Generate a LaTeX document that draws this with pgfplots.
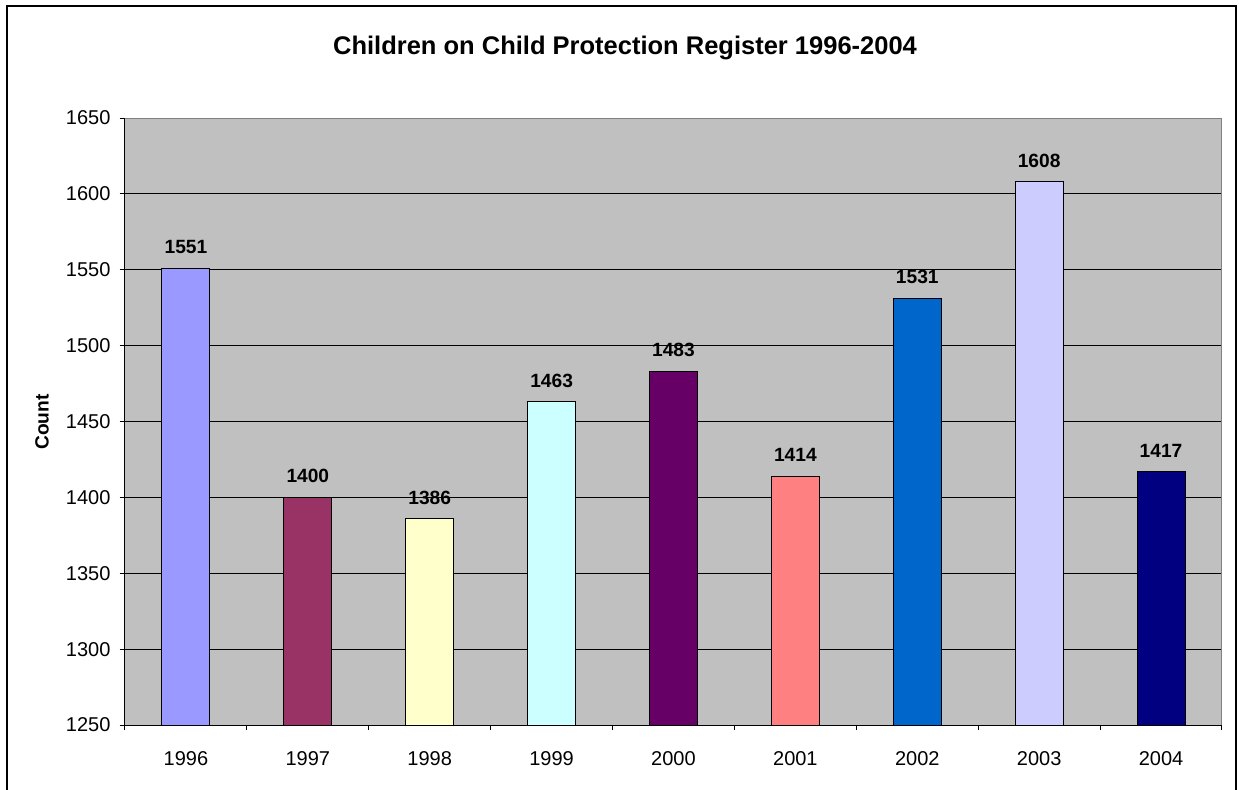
\documentclass[border=0pt]{standalone}
\usepackage{pgfplots}
\pgfplotsset{compat=1.18}
\usepackage{fontspec}
\setmainfont{Liberation Sans}
\definecolor{plotbg}{HTML}{C0C0C0}
\definecolor{borderg}{HTML}{808080}
\definecolor{cA}{HTML}{9999FF}
\definecolor{cB}{HTML}{993366}
\definecolor{cC}{HTML}{FFFFCC}
\definecolor{cD}{HTML}{CCFFFF}
\definecolor{cE}{HTML}{660066}
\definecolor{cF}{HTML}{FF8080}
\definecolor{cG}{HTML}{0066CC}
\definecolor{cH}{HTML}{CCCCFF}
\definecolor{cI}{HTML}{000080}
\begin{document}
\begin{tikzpicture}[x=0.6pt,y=0.6pt]
\useasboundingbox (0,0) rectangle (1239,789);
\clip (0,0) rectangle (1239,789);
\draw[line width=1.4pt] (7,-30) rectangle (1236,783);
\node[font=\bfseries\fontsize{15.3}{18}\selectfont] at (625,741) {Children on Child Protection Register 1996-2004};
\node[font=\bfseries\fontsize{11.5}{13}\selectfont, rotate=90] at (42,367) {Count};
\begin{axis}[
  at={(75pt,38.4pt)}, anchor=south west,
  scale only axis, width=658.2pt, height=364.2pt,
  xmin=-0.5, xmax=8.5, ymin=1250, ymax=1650,
  axis background/.style={fill=plotbg},
  axis line style={draw=none},
  clip=false,
  xtick pos=bottom, ytick pos=left,
  ytick={1250,1300,...,1650},
  ymajorgrids, grid style={black, line width=0.6pt},
  tick align=outside,
  tick style={black, line width=0.6pt},
  major tick length=3.2pt,
  xtick={-0.5,0.5,...,8.5}, xticklabels={},
  extra x ticks={0,1,2,3,4,5,6,7,8},
  extra x tick labels={1996,1997,1998,1999,2000,2001,2002,2003,2004},
  extra x tick style={major tick length=0pt, tick label style={yshift=-12.5pt}},
  /pgf/number format/1000 sep={},
  /pgf/number format/assume math mode=true,
  tick label style={font=\fontsize{12}{14}\selectfont},
  yticklabel style={xshift=-2pt},
  every axis plot/.append style={ybar, bar width=28.8pt, bar shift=0pt, draw=black, line width=0.6pt},
  nodes near coords,
  nodes near coords style={font=\bfseries\fontsize{11.5}{13}\selectfont, yshift=5pt},
]
\addplot[fill=cA] coordinates {(0,1551)};
\addplot[fill=cB] coordinates {(1,1400)};
\addplot[fill=cC] coordinates {(2,1386)};
\addplot[fill=cD] coordinates {(3,1463)};
\addplot[fill=cE] coordinates {(4,1483)};
\addplot[fill=cF] coordinates {(5,1414)};
\addplot[fill=cG] coordinates {(6,1531)};
\addplot[fill=cH] coordinates {(7,1608)};
\addplot[fill=cI] coordinates {(8,1417)};
\draw[borderg, line width=0.6pt] (rel axis cs:0,1) -- (rel axis cs:1,1) -- (rel axis cs:1,0);
\draw[black, line width=0.6pt] (rel axis cs:0,1) -- (rel axis cs:0,0) -- (rel axis cs:1,0);
\end{axis}
\end{tikzpicture}
\end{document}
